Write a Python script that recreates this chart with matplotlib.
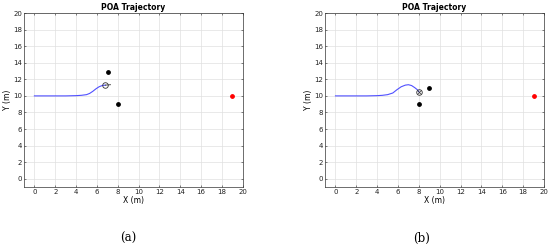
import matplotlib
matplotlib.use("Agg")
import matplotlib.pyplot as plt

# Panel (a)
traj_a_x = [0, 1, 2, 3, 4, 4.5, 5, 5.3, 5.6, 5.9, 6.2, 6.5, 6.8]
traj_a_y = [10, 10, 10, 10, 10.03, 10.07, 10.15, 10.3, 10.55, 10.85, 11.1, 11.25, 11.3]
robot_a = (6.8, 11.3)
heading_a = (7.3, 11.35)
obst_a_x = [7.1, 8.0]
obst_a_y = [12.9, 9.0]

# Panel (b)
traj_b_x = [0, 1, 2, 3, 4, 4.5, 5, 5.5, 5.9, 6.3, 6.7, 7.0, 7.3, 7.6, 7.85, 8.0]
traj_b_y = [10, 10, 10, 10, 10.03, 10.07, 10.15, 10.35, 10.75, 11.1, 11.3, 11.35, 11.25, 11.0, 10.75, 10.5]
robot_b = (8.0, 10.5)
obst_b_x = [9.0, 8.0]
obst_b_y = [11.0, 9.0]

goal = (19, 10)
ticks = list(range(0, 21, 2))
labels = ["(a)", "(b)"]

fig = plt.figure(figsize=(5.5, 2.47), dpi=100)
positions = [[0.0436, 0.243, 0.398, 0.704], [0.591, 0.243, 0.398, 0.704]]
label_x = [0.233, 0.767]

panels = [
    (traj_a_x, traj_a_y, robot_a, obst_a_x, obst_a_y, True),
    (traj_b_x, traj_b_y, robot_b, obst_b_x, obst_b_y, False),
]

for i, (tx, ty, rb, ox, oy, heading) in enumerate(panels):
    ax = fig.add_axes(positions[i])
    ax.set_xlim(-1, 20)
    ax.set_ylim(-1, 20)
    ax.set_xticks(ticks)
    ax.set_yticks(ticks)
    ax.grid(True, color="#e0e0e0", linewidth=0.5)
    ax.set_axisbelow(True)
    ax.plot(tx, ty, color="#5050ff", linewidth=0.8)
    if heading:
        ax.plot([rb[0], heading_a[0]], [rb[1], heading_a[1]], color="#333333", linewidth=0.6)
    else:
        ax.plot([rb[0]], [rb[1]], marker="x", color="#333333", markersize=2.5, markeredgewidth=0.5)
    ax.plot([rb[0]], [rb[1]], marker="o", markerfacecolor="white", markeredgecolor="#333333",
            markersize=4, markeredgewidth=0.6, fillstyle="none")
    ax.scatter(ox, oy, color="black", s=6, zorder=3)
    ax.scatter([goal[0]], [goal[1]], color="red", s=6, zorder=3)
    ax.tick_params(labelsize=5, length=1.5, width=0.4, pad=1.5, colors="#222222",
                   direction="in", top=True, right=True)
    for s in ax.spines.values():
        s.set_linewidth(0.5)
        s.set_color("#333333")
    ax.set_title("POA Trajectory", fontsize=5.5, fontweight="bold", pad=2)
    ax.set_xlabel("X (m)", fontsize=5.5, labelpad=1)
    ax.set_ylabel("Y (m)", fontsize=5.5, labelpad=1)
    fig.text(label_x[i], 0.035, labels[i], ha="center", va="center", fontsize=8.5, family="DejaVu Serif")

fig.savefig("out.png", dpi=100)
